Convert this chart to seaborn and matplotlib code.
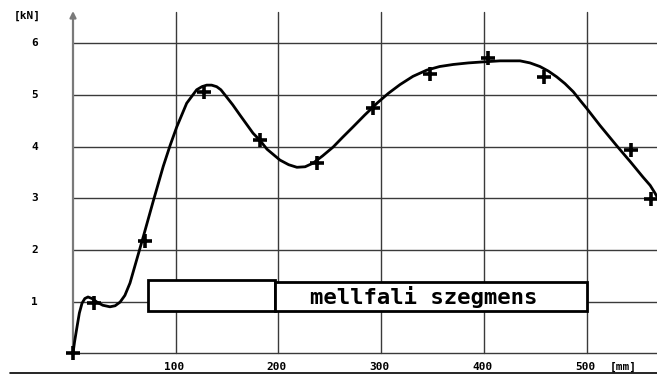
import matplotlib
matplotlib.use("Agg")
import matplotlib.pyplot as plt
import seaborn as sns
import pandas as pd
from matplotlib.patches import Rectangle

# measured points (x in mm, y in kN)
point_x = [0, 20, 70, 127.8, 182.5, 237.4, 292, 347.6, 404, 458.6, 543, 563]
point_y = [0, 0.98, 2.17, 5.06, 4.12, 3.68, 4.74, 5.40, 5.71, 5.34, 3.93, 2.98]

# fitted curve
curve_x = [0, 1.5, 3.9, 6.2, 8.8, 11.5, 14.6, 18.5, 23.4, 29, 36, 41, 45.8, 50.5, 55.5,
           62, 68.5, 78.2, 87.9, 94.5, 101, 110.7, 120.4, 125.5, 130.2, 135, 139.9,
           144, 148, 155.5, 162.6, 175.3, 182.1, 188.9, 201.5, 210, 218, 226, 233.7,
           243, 253.2, 262.5, 272.6, 284, 296, 307, 318.4, 331, 344.4, 357, 370.3,
           385, 399.5, 415.8, 435.3, 445, 454.7, 463, 471, 479, 487.2, 494, 500.2,
           513.1, 529.7, 543, 555, 562, 566.7, 568.6]
curve_y = [0, 0.22, 0.51, 0.78, 0.97, 1.06, 1.09, 1.06, 0.99, 0.93, 0.90, 0.92, 0.99,
           1.12, 1.36, 1.81, 2.26, 2.95, 3.62, 4.02, 4.38, 4.84, 5.10, 5.16, 5.19,
           5.19, 5.16, 5.10, 5.0, 4.81, 4.61, 4.26, 4.12, 3.95, 3.74, 3.65, 3.60,
           3.61, 3.68, 3.82, 3.99, 4.18, 4.38, 4.61, 4.84, 5.03, 5.20, 5.36, 5.48,
           5.55, 5.59, 5.62, 5.64, 5.66, 5.66, 5.62, 5.55, 5.46, 5.35, 5.22, 5.06,
           4.89, 4.74, 4.41, 4.01, 3.70, 3.41, 3.25, 3.10, 3.03]

x_ticks = [100, 200, 300, 400, 500]
y_ticks = [1, 2, 3, 4, 5, 6]
x_unit = "[mm]"
y_unit = "[kN]"
legend_label = "mellfali szegmens"

sns.set_style("white")
plt.rcParams['font.family'] = ['DejaVu Sans Mono', 'DejaVu Sans']

# pixel <-> data mapping
X0, XS = 73.0, 1.027      # px of x=0, px per unit
Y0, YS = 353.3, 51.67     # px of y=0, px per unit
W, H = 657, 374
def dx(px): return (px - X0) / XS
def dy(py): return (Y0 - py) / YS

fig = plt.figure(figsize=(W / 100, H / 100), dpi=100)
ax = fig.add_axes([0, 0, 1, 1])
ax.set_xlim(dx(0), dx(W))
ax.set_ylim(dy(H), dy(0))
ax.axis("off")

grid_c = "#3a3a3a"
# horizontal grid lines
for yv in [0] + y_ticks:
    ax.plot([0, dx(W)], [yv, yv], color=grid_c, lw=1.0, zorder=1)
# vertical grid lines
for xv in x_ticks:
    ax.plot([xv, xv], [0, dy(12)], color=grid_c, lw=1.0, zorder=1)
# y axis with arrow
ax.annotate("", xy=(0, dy(11)), xytext=(0, 0),
            arrowprops=dict(arrowstyle="-|>", color="#7a7a7a", lw=1.6,
                            mutation_scale=9, shrinkA=0, shrinkB=0), zorder=2)
# bottom line
ax.plot([dx(10), dx(W)], [dy(373), dy(373)], color="black", lw=1.2, zorder=1)

# curve and points
curve = pd.DataFrame({"x": curve_x, "y": curve_y})
pts = pd.DataFrame({"x": point_x, "y": point_y})
sns.lineplot(data=curve, x="x", y="y", ax=ax, color="black", lw=2.0, sort=False,
             zorder=3)
sns.scatterplot(data=pts, x="x", y="y", ax=ax, marker="+", s=90, color="black",
                linewidth=2.6, zorder=4)
ax.set_xlim(dx(0), dx(W))
ax.set_ylim(dy(H), dy(0))

# tick labels
lab = dict(fontsize=8, fontweight="bold", color="black")
for yv in y_ticks:
    ax.text(dx(34.5), yv, str(yv), ha="center", va="center", **lab)
ax.text(dx(27), dy(15.5), y_unit, ha="center", va="center", **lab)
for xv in x_ticks:
    ax.text(xv - 1.5, dy(366.5), str(xv), ha="center", va="center", **lab)
ax.text(dx(623), dy(366.5), x_unit, ha="center", va="center", **lab)

# legend box
ax.add_patch(Rectangle((dx(147.5), dy(311)), dx(275) - dx(147.5), dy(280) - dy(311),
                       facecolor="white", edgecolor="black", lw=2.0, zorder=5))
ax.add_patch(Rectangle((dx(275), dy(311)), dx(587) - dx(275), dy(281.5) - dy(311),
                       facecolor="white", edgecolor="black", lw=2.0, zorder=5))
ax.text(dx(424), dy(297), legend_label, ha="center", va="center", fontsize=16,
        fontweight="bold", color="black", zorder=6)

fig.savefig("out.png", dpi=100)
